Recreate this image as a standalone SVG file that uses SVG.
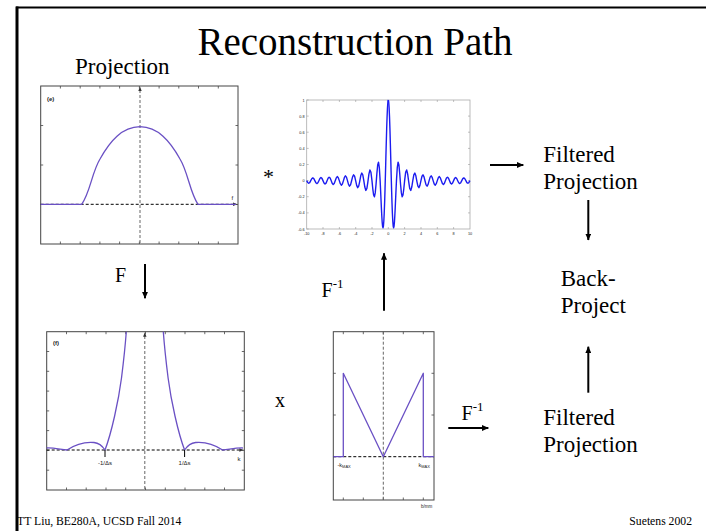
<svg xmlns="http://www.w3.org/2000/svg" xmlns:xlink="http://www.w3.org/1999/xlink" width="706" height="531" viewBox="0 0 706 531">
<style>
.serif{font-family:"Liberation Serif","Times New Roman",serif;fill:#000}
.sans{font-family:"Liberation Sans",Arial,sans-serif;fill:#222}
.frame{fill:none;stroke:#444;stroke-width:1}
.tick{stroke:#444;stroke-width:0.8}
.lframe{fill:none;stroke:#aaa;stroke-width:0.8}
.ltick{stroke:#999;stroke-width:0.6}
.hdash{stroke:#000;stroke-width:1;stroke-dasharray:3,2}
.vdash{stroke:#666;stroke-width:1;stroke-dasharray:3,2}
.curve{fill:none;stroke:#6a50c4;stroke-width:1.3;stroke-linejoin:round}
.sinc{fill:none;stroke:#1c1cf0;stroke-width:1.4;stroke-linejoin:round;vector-effect:non-scaling-stroke}
.arrow{stroke:#000;stroke-width:2;fill:none;marker-end:url(#ah)}
.axhead{fill:#333}
</style>
<defs>
<marker id="ah" markerUnits="userSpaceOnUse" markerWidth="7" markerHeight="6" refX="6.5" refY="3" orient="auto">
<path d="M0,0 L7,3 L0,6 z" fill="#000"/>
</marker>
</defs>
<rect width="706" height="531" fill="#fff"/>
<!-- slide frame -->
<line x1="16" y1="7.5" x2="706" y2="7.5" stroke="#000" stroke-width="2"/>
<line x1="17" y1="6.5" x2="17" y2="531" stroke="#000" stroke-width="3"/>

<text class="serif" x="355" y="55" font-size="39" text-anchor="middle">Reconstruction Path</text>

<!-- Panel (e): projection -->
<g id="projection">
<text class="serif" x="75" y="74" font-size="23">Projection</text>
<rect class="frame" x="40.7" y="86" width="197.3" height="158"/>
<path class="tick" d="M60.4,86v2.5M80.2,86v2.5M99.9,86v2.5M119.6,86v2.5M139.4,86v2.5M159.1,86v2.5M178.8,86v2.5M198.5,86v2.5M218.3,86v2.5M60.4,244v-2.5M80.2,244v-2.5M99.9,244v-2.5M119.6,244v-2.5M139.4,244v-2.5M159.1,244v-2.5M178.8,244v-2.5M198.5,244v-2.5M218.3,244v-2.5M40.7,125.5h2.5M40.7,165h2.5M40.7,204.5h2.5M238,125.5h-2.5M238,165h-2.5M238,204.5h-2.5"/>
<line class="vdash" x1="140" y1="90" x2="140" y2="244"/>
<line class="hdash" x1="40.7" y1="204.3" x2="234" y2="204.3"/>
<path class="axhead" d="M140,86.5 L138.3,91 L141.7,91 z M237.5,204.3 L233,202.6 L233,206 z"/>
<path class="curve" d="M40.7,204.3 L81.7,204.3 C90,193 92,172 100,159 C110,141 122,127 140,126.7 C158,127 170,141 180,159 C188,172 190,193 198,204.3 L236,204.3"/>
<text class="sans" x="47" y="101" font-size="6" font-weight="bold">(e)</text>
<text class="sans" x="231.5" y="200" font-size="6">f</text>
</g>

<!-- Panel: filter impulse response -->
<g id="filter-kernel">
<rect class="lframe" x="306.7" y="100" width="163.3" height="129"/>
<path class="ltick" d="M306.7,100h2M306.7,116.1h2M306.7,132.2h2M306.7,148.4h2M306.7,164.5h2M306.7,180.6h2M306.7,196.7h2M306.7,212.9h2M306.7,229h2M470,116.1h-2M470,132.2h-2M470,148.4h-2M470,164.5h-2M470,180.6h-2M470,196.7h-2M470,212.9h-2M323,229v-2M339.4,229v-2M355.7,229v-2M372,229v-2M388.3,229v-2M404.6,229v-2M421,229v-2M437.3,229v-2M453.6,229v-2M323,100v2M339.4,100v2M355.7,100v2M372,100v2M388.3,100v2M404.6,100v2M421,100v2M437.3,100v2M453.6,100v2"/>
<g class="sans" font-size="3.8" text-anchor="end" fill="#444">
<text x="304.5" y="101.5">1</text>
<text x="304.5" y="117.6">0.8</text>
<text x="304.5" y="133.7">0.6</text>
<text x="304.5" y="149.9">0.4</text>
<text x="304.5" y="166">0.2</text>
<text x="304.5" y="182.1">0</text>
<text x="304.5" y="198.2">-0.2</text>
<text x="304.5" y="214.4">-0.4</text>
<text x="304.5" y="230.5">-0.6</text>
</g>
<g class="sans" font-size="3.8" text-anchor="middle" fill="#444">
<text x="306.7" y="235">-10</text>
<text x="323" y="235">-8</text>
<text x="339.4" y="235">-6</text>
<text x="355.7" y="235">-4</text>
<text x="372" y="235">-2</text>
<text x="388.3" y="235">0</text>
<text x="404.6" y="235">2</text>
<text x="421" y="235">4</text>
<text x="437.3" y="235">6</text>
<text x="453.6" y="235">8</text>
<text x="470" y="235">10</text>
</g>
<g transform="translate(388.3,180.6) scale(8.165,1)">
<path id="sincR" class="sinc" d="M0,-80.6 L0.05,-78.6 0.1,-72.8 0.15,-63.6 0.2,-51.5 0.25,-37.3 0.3,-22 0.35,-6.4 0.4,8.5 0.45,21.7 0.5,32.7 0.55,40.7 0.6,45.7 0.65,47.3 0.7,45.8 0.75,41.5 0.8,34.9 0.85,26.8 0.9,17.7 0.95,8.6 1,0 1.1,-13.1 1.2,-18.4 1.3,-15.6 1.4,-7 1.5,3.6 1.6,12.3 1.7,16.2 1.8,14.4 1.9,8.2 2,0 2.125,-8.27 2.25,-10.59 2.375,-6.4 2.5,1.31 2.625,7.92 2.75,9.87 2.875,6.45 3,0 3.125,-5.68 3.25,-7.51 3.375,-4.76 3.5,0.67 3.625,5.54 3.75,7.13 3.875,4.76 4,0 4.125,-4.33 4.25,-5.81 4.375,-3.78 4.5,0.4 4.625,4.25 4.75,5.58 4.875,3.77 5,0 5.125,-3.49 5.25,-4.74 5.375,-3.13 5.5,0.27 5.625,3.45 5.75,4.58 5.875,3.12 6,0 6.125,-2.93 6.25,-4 6.375,-2.68 6.5,0.19 6.625,2.9 6.75,3.89 6.875,2.66 7,0 7.125,-2.52 7.25,-3.46 7.375,-2.33 7.5,0.15 7.625,2.5 7.75,3.38 7.875,2.32 8,0 8.125,-2.21 8.25,-3.05 8.375,-2.07 8.5,0.11 8.625,2.2 8.75,2.99 8.875,2.06 9,0 9.125,-1.97 9.25,-2.73 9.375,-1.86 9.5,0.09 9.625,1.96 9.75,2.67 9.875,1.85 10,0"/>
<use xlink:href="#sincR" href="#sincR" transform="scale(-1,1)"/>
</g>
</g>

<!-- Panel (f): Fourier transform of projection -->
<g id="projection-ft">
<rect class="frame" x="46.7" y="331.7" width="197.6" height="158.3"/>
<path class="tick" d="M66.5,331.7v2.5M86.2,331.7v2.5M106,331.7v2.5M125.7,331.7v2.5M145.5,331.7v2.5M165.3,331.7v2.5M185,331.7v2.5M204.8,331.7v2.5M224.5,331.7v2.5M66.5,490v-2.5M86.2,490v-2.5M106,490v-2.5M125.7,490v-2.5M145.5,490v-2.5M165.3,490v-2.5M185,490v-2.5M204.8,490v-2.5M224.5,490v-2.5M46.7,351.5h2.5M46.7,371.3h2.5M46.7,391.1h2.5M46.7,410.9h2.5M46.7,430.6h2.5M46.7,450.4h2.5M46.7,470.2h2.5M244.3,351.5h-2.5M244.3,371.3h-2.5M244.3,391.1h-2.5M244.3,410.9h-2.5M244.3,430.6h-2.5M244.3,450.4h-2.5M244.3,470.2h-2.5"/>
<line class="vdash" x1="144.8" y1="336" x2="144.8" y2="490"/>
<line class="hdash" x1="46.7" y1="450" x2="240" y2="450"/>
<path class="axhead" d="M144.8,332.2 L143.1,336.7 L146.5,336.7 z M243.8,450 L239.3,448.3 L239.3,451.7 z"/>
<path id="ftL" class="curve" d="M46.7,448 C53,447.6 60,449.3 67,450 C76,444 86,441.8 94,442.5 C99,443 102,445.5 105,450 C111.5,433 118.5,401 121.5,378 C123.5,362 125.3,345 126.3,331.7"/>
<use xlink:href="#ftL" href="#ftL" transform="matrix(-1 0 0 1 289.6 0)"/>
<path stroke="#000" stroke-width="1" d="M105,450v7M184.6,450v7"/>
<text class="sans" x="53" y="345" font-size="6" font-weight="bold">(f)</text>
<text class="sans" x="105" y="464.5" font-size="6" text-anchor="middle">-1/Δs</text>
<text class="sans" x="184.6" y="464.5" font-size="6" text-anchor="middle">1/Δs</text>
<text class="sans" x="237.5" y="460.5" font-size="6">k</text>
</g>

<!-- Panel: ramp filter -->
<g id="ramp-filter">
<rect class="frame" x="333.3" y="331.7" width="100.7" height="168.3" stroke="#777"/>
<path class="tick" d="M343.3,331.7v2.5M363.3,331.7v2.5M383.3,331.7v2.5M403.3,331.7v2.5M423.3,331.7v2.5M343.3,500v-2.5M363.3,500v-2.5M383.3,500v-2.5M403.3,500v-2.5M423.3,500v-2.5M333.3,373.3h2.5M333.3,415h2.5M333.3,456.7h2.5M434,373.3h-2.5M434,415h-2.5M434,456.7h-2.5"/>
<line class="vdash" x1="383.3" y1="331.7" x2="383.3" y2="500"/>
<line class="hdash" x1="333.3" y1="456.7" x2="434" y2="456.7"/>
<path class="curve" d="M333.3,456.7 L343.3,456.7 L343.3,373.3 L383.3,456.7 L423.3,373.3 L423.3,456.7 L434,456.7"/>
<text class="sans" x="337.5" y="467" font-size="5.5">-k<tspan font-size="4" dy="1">MAX</tspan></text>
<text class="sans" x="418.5" y="467" font-size="5.5">k<tspan font-size="4" dy="1">MAX</tspan></text>
<text class="sans" x="421" y="507.5" font-size="4.5">b/mm</text>
</g>

<!-- Operation labels -->
<g id="op-convolve"><text class="serif" x="263" y="184" font-size="22">*</text></g>
<g id="op-multiply"><text class="serif" x="275" y="407" font-size="20">x</text></g>
<g id="label-F"><text class="serif" x="115" y="282" font-size="20">F</text></g>
<g id="label-Finv-mid"><text class="serif" x="321.5" y="297" font-size="20">F<tspan font-size="13" dy="-9">-1</tspan></text></g>
<g id="label-Finv-bottom"><text class="serif" x="461.5" y="420" font-size="20">F<tspan font-size="13" dy="-9">-1</tspan></text></g>

<g id="filtered-top">
<text class="serif" x="543.3" y="162.3" font-size="23">Filtered</text>
<text class="serif" x="543.3" y="189.3" font-size="23">Projection</text>
</g>
<g id="back-project">
<text class="serif" x="560.7" y="286" font-size="23">Back-</text>
<text class="serif" x="560.7" y="312.7" font-size="23">Project</text>
</g>
<g id="filtered-bottom">
<text class="serif" x="543.3" y="425" font-size="23">Filtered</text>
<text class="serif" x="543.3" y="451.7" font-size="23">Projection</text>
</g>

<!-- Connectors -->
<g id="connectors">
<line class="arrow" x1="490" y1="165" x2="523.3" y2="165"/>
<line class="arrow" x1="588.3" y1="200" x2="588.3" y2="240"/>
<line class="arrow" x1="588.3" y1="392.7" x2="588.3" y2="346.7"/>
<line class="arrow" x1="448.3" y1="428" x2="488.3" y2="428"/>
<line class="arrow" x1="145" y1="264" x2="145" y2="298.3"/>
<line class="arrow" x1="384" y1="310.7" x2="384" y2="253.3"/>
</g>

<text class="serif" x="17" y="525" font-size="11.7">TT Liu, BE280A, UCSD Fall 2014</text>
<text class="serif" x="692" y="525" font-size="11.7" text-anchor="end">Suetens 2002</text>
</svg>
